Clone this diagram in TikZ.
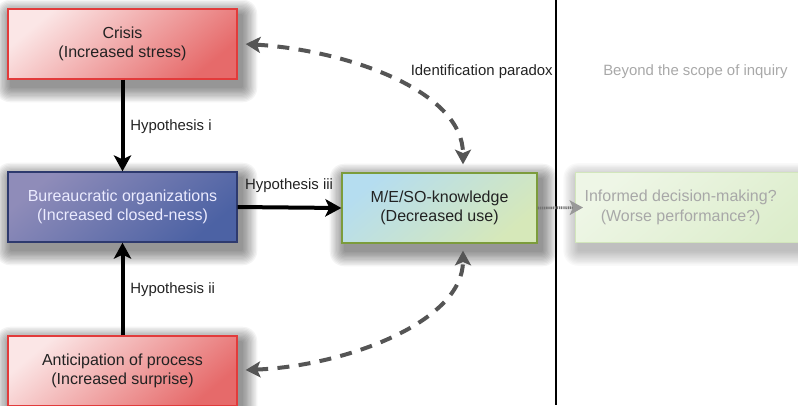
\documentclass[tikz,border=0pt]{standalone}
\usepackage{fontspec}
\setmainfont{Liberation Sans}
\usetikzlibrary{arrows.meta,calc,backgrounds}
\definecolor{redborder}{HTML}{E23B3B}
\definecolor{redlight}{HTML}{FBE6E6}
\definecolor{reddark}{HTML}{E66A6A}
\definecolor{blueborder}{HTML}{2E3A6E}
\definecolor{bluelight}{HTML}{8F8CB9}
\definecolor{bluedark}{HTML}{4C62A4}
\definecolor{greenborder}{HTML}{7C9C3C}
\definecolor{mesblue}{HTML}{B5DDF0}
\definecolor{mesgreen}{HTML}{D6E8B9}
\definecolor{infborder}{HTML}{D2E6BC}
\definecolor{inffill}{HTML}{EEF6E6}
\definecolor{inffill2}{HTML}{DCEDCB}
\definecolor{dashgray}{HTML}{555555}
\definecolor{fadetext}{HTML}{A8A8A8}
\definecolor{boxtext}{HTML}{222222}
\newcommand{\myshadow}[2]{%
  \begin{pgfonlayer}{background}
  \foreach \k in {1,...,12}{
    \fill[black, opacity=#2, rounded corners=\k*0.9pt]
      ($(#1.south west)+(4-\k*1.3,7+\k*1.3)$) rectangle ($(#1.north east)+(4+\k*1.3,7-\k*1.3)$);
  }
  \end{pgfonlayer}}
\tikzset{
  basebox/.style={line width=1pt, minimum height=52.5pt, align=center,
    font=\fontsize{12}{14.6}\selectfont},
  redbox/.style={basebox, draw=redborder, minimum width=171.75pt,
    top color=redlight, bottom color=reddark, shading angle=40, text=boxtext},
  bluebox/.style={basebox, draw=blueborder, minimum width=171.75pt,
    top color=bluelight, bottom color=bluedark, shading angle=40, text=white!92!blue},
  mesbox/.style={basebox, draw=greenborder, minimum width=146.25pt,
    top color=mesblue, bottom color=mesgreen, shading angle=40, text=boxtext},
  infbox/.style={basebox, draw=infborder, minimum width=187.5pt,
    top color=inffill, bottom color=inffill2, shading angle=40, text=fadetext},
  hyp/.style={font=\fontsize{11.2}{13}\selectfont, text=boxtext, inner sep=0pt},
  solidarrow/.style={line width=3pt, -{Stealth[length=12pt, width=13pt, inset=3pt]}},
  dasharrow/.style={line width=3pt, dashgray, dash pattern=on 9pt off 7pt,
    {Stealth[length=11pt, width=12pt, inset=2.5pt]}-{Stealth[length=11pt, width=12pt, inset=2.5pt]}},
  dotarrow/.style={line width=2pt, draw=gray!90!black, dash pattern=on 1pt off 0.6pt,
    -{Stealth[length=10pt, width=11pt, inset=2.5pt, gray!80, fill=gray!80]}}
}
\begin{document}
\begin{tikzpicture}[x=0.75pt, y=-0.75pt]
\useasboundingbox (0,0) rectangle (798,405);

% divider
\draw[line width=0.8pt, black] (556,0) -- (556,405);

% boxes
\node[redbox] (crisis) at (122.5,44) {Crisis\\(Increased stress)};
\node[bluebox] (bur) at (122.5,207) {Bureaucratic organizations\\(Increased closed-ness)};
\node[redbox] (ant) at (122.5,371) {Anticipation of process\\(Increased surprise)};
\node[mesbox] (mes) at (439.5,208) {M/E/SO-knowledge\\(Decreased use)};
\node[infbox, anchor=west] (inf) at (575,207.5) {Informed decision-making?\hspace*{30pt}\\(Worse performance?)\hspace*{30pt}};

\myshadow{crisis}{0.045}
\myshadow{bur}{0.045}
\myshadow{ant}{0.045}
\myshadow{mes}{0.045}
\myshadow{inf}{0.025}

% solid arrows
\draw[solidarrow] (crisis.south) -- (bur.north);
\draw[solidarrow] (ant.north) -- (bur.south);
\draw[solidarrow] (bur.east) -- (mes.west);

% dotted arrow
\draw[dotarrow] (mes.east) -- ($(inf.west)+(8,0)$);

% dashed curved arrows
\coordinate (c1) at ($(crisis.east)+(8,0)$);
\coordinate (m1) at ($(mes.north)+(23.5,-8)$);
\coordinate (a1) at ($(ant.east)+(8,-1)$);
\coordinate (m2) at ($(mes.south)+(23.5,7)$);
\draw[dasharrow] (c1) .. controls (345,50) and (463,90) .. (m1);
\draw[dasharrow] (a1) .. controls (345,366) and (463,322) .. (m2);

% labels
\node[hyp, anchor=west] (h1) at (130,127) {Hypothesis i};
\node[hyp, anchor=west] (h2) at (130,290) {Hypothesis ii};
\node[hyp] (h3) at (289,186) {Hypothesis iii};
\node[hyp, anchor=east] (idp) at (553,72) {Identification paradox};
\node[hyp, anchor=west, text=fadetext] (beyond) at (603,72) {Beyond the scope of inquiry};
\end{tikzpicture}
\end{document}
